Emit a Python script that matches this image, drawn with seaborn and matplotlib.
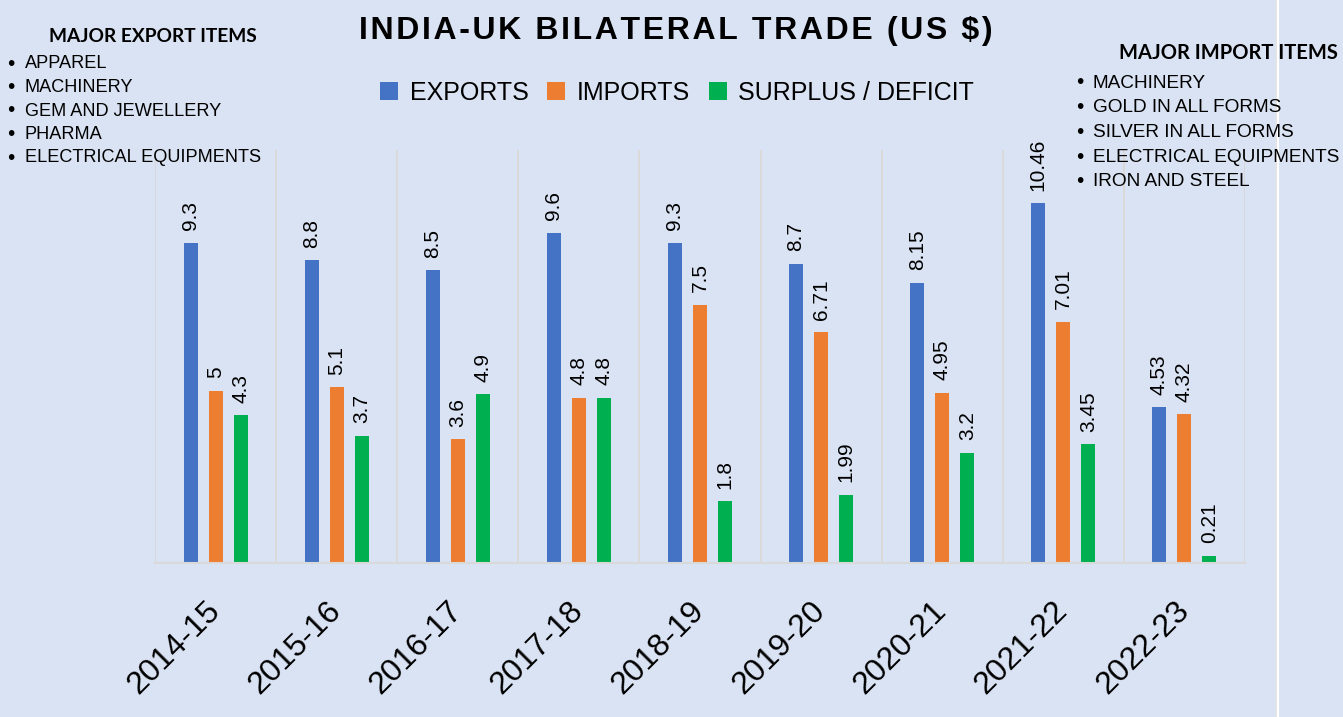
import numpy as np
import pandas as pd
import matplotlib.pyplot as plt
import seaborn as sns
from matplotlib.lines import Line2D

# chart data
years = ["2014-15", "2015-16", "2016-17", "2017-18", "2018-19",
         "2019-20", "2020-21", "2021-22", "2022-23"]
exports = [9.3, 8.8, 8.5, 9.6, 9.3, 8.7, 8.15, 10.46, 4.53]
imports = [5, 5.1, 3.6, 4.8, 7.5, 6.71, 4.95, 7.01, 4.32]
surplus = [4.3, 3.7, 4.9, 4.8, 1.8, 1.99, 3.2, 3.45, 0.21]
series_names = ["EXPORTS", "IMPORTS", "SURPLUS / DEFICIT"]
export_items = ["APPAREL", "MACHINERY", "GEM AND JEWELLERY", "PHARMA",
                "ELECTRICAL EQUIPMENTS"]
import_items = ["MACHINERY", "GOLD IN ALL FORMS", "SILVER IN ALL FORMS",
                "ELECTRICAL EQUIPMENTS", "IRON AND STEEL"]

colors = ["#4472C4", "#ED7D31", "#00B050"]
bg = "#DAE3F3"
grid_col = "#D9D9D9"

df = pd.DataFrame({
    "Year": years * 3,
    "Type": [series_names[0]] * 9 + [series_names[1]] * 9 + [series_names[2]] * 9,
    "Value": exports + imports + surplus,
})

sns.set_theme(style="white")
plt.rcParams["font.family"] = ["Liberation Sans", "DejaVu Sans"]
plt.rcParams["text.color"] = "black"
plt.rcParams["xtick.color"] = "black"

W, H = 1343, 717
fig = plt.figure(figsize=(W / 100, H / 100), dpi=100, facecolor=bg)
ax = fig.add_axes([155 / W, 1 - 563 / H, 1090 / W, 413 / H])
ax.set_facecolor(bg)

sns.barplot(data=df, x="Year", y="Value", hue="Type", palette=colors,
            width=0.62, gap=0.44, saturation=1, errorbar=None,
            edgecolor="none", linewidth=0, ax=ax)

# value labels
for cont, vals in zip(ax.containers, [exports, imports, surplus]):
    ax.bar_label(cont, labels=[f"{v:g}" for v in vals], rotation=90,
                 padding=9, fontsize=15, color="black")

ax.set_xlim(-0.5, len(years) - 0.5)
ax.set_ylim(0, 12)
ax.set_yticks([])
ax.set_xlabel("")
ax.set_ylabel("")
ax.set_xticks(np.arange(-0.5, len(years), 1), minor=True)
ax.grid(which="minor", axis="x", color=grid_col, lw=1.4)
ax.set_axisbelow(True)
ax.tick_params(axis="x", which="both", length=0)
ax.tick_params(axis="x", which="major", pad=31, labelsize=23, labelcolor="black")
plt.setp(ax.get_xticklabels(), rotation=45, ha="right", va="center",
         rotation_mode="anchor")
sns.despine(ax=ax, left=True)
ax.spines["bottom"].set_color(grid_col)
ax.spines["bottom"].set_linewidth(1.5)

# legend on top
handles, labels = ax.get_legend_handles_labels()
ax.legend_.remove()
fig.legend(handles, labels, loc="center", bbox_to_anchor=(677 / W, 1 - 93 / H),
           ncol=3, frameon=False, fontsize=18, handlelength=0.72,
           handleheight=0.72, handletextpad=0.45, columnspacing=0.75)

# title with a bit of letter spacing
fig.text(676 / W, 1 - 31 / H, "\u200a".join("INDIA-UK BILATERAL TRADE (US $)"),
         ha="center", va="center", fontsize=23, fontweight="bold")

# side notes
fig.text(153 / W, 1 - 36 / H, "MAJOR EXPORT ITEMS", family="Lato",
         fontweight="bold", fontsize=13.8, ha="center", va="center")
for i, item in enumerate(export_items):
    y = 1 - (64 + i * 23.5) / H
    fig.text(7 / W, y, "•", fontsize=15, va="center")
    fig.text(25 / W, y, item, fontsize=13.1, va="center")

fig.text(1228 / W, 1 - 53 / H, "MAJOR IMPORT ITEMS", family="Lato",
         fontweight="bold", fontsize=14.5, ha="center", va="center")
for i, item in enumerate(import_items):
    y = 1 - (83 + i * 24.7) / H
    fig.text(1076 / W, y, "•", fontsize=15, va="center")
    fig.text(1093 / W, y, item, fontsize=13.7, va="center")

# white separator strip at the right
fig.add_artist(Line2D([1276 / W] * 2, [0, 1], color="#E4E4E4", lw=1.2,
                      transform=fig.transFigure))
fig.add_artist(Line2D([1277.5 / W] * 2, [0, 1], color="white", lw=1.5,
                      transform=fig.transFigure))

fig.savefig("out.png", dpi=100, facecolor=bg)
